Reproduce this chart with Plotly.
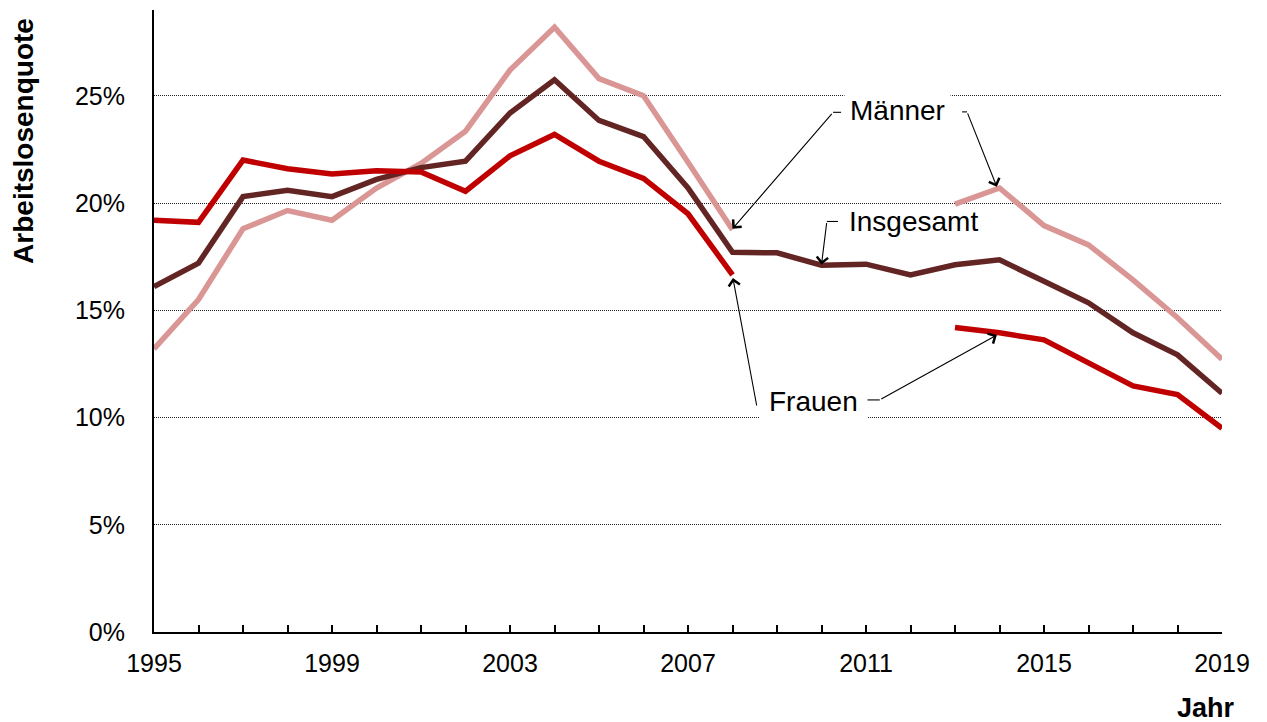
import plotly.graph_objects as go

years = list(range(1995, 2020))
insgesamt = [16.1, 17.2, 20.3, 20.6, 20.3, 21.1, 21.65, 21.95, 24.2, 25.75, 23.85, 23.1, 20.7,
             17.7, 17.68, 17.1, 17.15, 16.65, 17.12, 17.35, 16.35, 15.35, 13.95, 12.92, 11.13]
maenner = [13.2, 15.5, 18.8, 19.65, 19.2, 20.7, 21.85, 23.35, 26.2, 28.2, 25.8, 25.0, 21.9,
           18.75, None, None, None, None, 19.95, 20.7, 18.95, 18.05, 16.42, 14.65, 12.72]
frauen = [19.2, 19.1, 22.0, 21.6, 21.35, 21.5, 21.45, 20.55, 22.2, 23.2, 21.95, 21.15, 19.5,
          16.65, None, None, None, None, 14.2, 13.95, 13.62, 12.58, 11.47, 11.07, 9.5]
y_ticks = [0, 5, 10, 15, 20, 25]
y_ticklabels = [f"{v}%" for v in y_ticks]

FONT = "Liberation Sans, Arial, sans-serif"
series = [
    ("Männer", maenner, "#D99694"),
    ("Insgesamt", insgesamt, "#632523"),
    ("Frauen", frauen, "#C00000"),
]

fig = go.Figure()
for name, values, color in series:
    fig.add_trace(go.Scatter(
        x=years, y=values, mode="lines", name=name,
        line=dict(color=color, width=5.5), connectgaps=False,
    ))


def idx(year):
    return years.index(year)


def label(text, x, y, bg=True, pad=6):
    fig.add_annotation(
        x=x, y=y, xref="x", yref="y", text=text, showarrow=False,
        font=dict(family=FONT, size=28, color="black"),
        bgcolor="white" if bg else None, borderpad=pad,
    )


def arrow(x_tip, y_tip, x_tail, y_tail):
    fig.add_annotation(
        x=x_tip, y=y_tip, ax=x_tail, ay=y_tail, xref="x", yref="y", axref="x", ayref="y",
        text="", showarrow=True, arrowhead=4, arrowsize=2.0, arrowwidth=1.1,
        arrowcolor="black", standoff=0, startstandoff=0,
    )


def tick(x0, x1, y):
    fig.add_shape(type="line", x0=x0, x1=x1, y0=y, y1=y, xref="x", yref="y",
                  line=dict(color="black", width=1.1))


# labels and leader lines
label("Männer", 2011.70, 24.3, pad=5)
label("Insgesamt", 2012.06, 19.12, bg=False)
label("Frauen", 2009.81, 10.77, pad=9)

# Männer
tick(2010.26, 2010.44, 24.23)
arrow(2008, maenner[idx(2008)] + 0.05, 2010.26, 24.23)
tick(2013.16, 2013.27, 24.25)
arrow(2013.94, maenner[idx(2014)] + 0.06, 2013.27, 24.25)
# Insgesamt
tick(2010.12, 2010.37, 19.14)
arrow(2010, insgesamt[idx(2010)] + 0.03, 2010.12, 19.14)
# Frauen
arrow(2008.01, frauen[idx(2008)] - 0.15, 2008.55, 10.49)
tick(2011.02, 2011.31, 10.82)
arrow(2013.94, frauen[idx(2014)] - 0.1, 2011.31, 10.82)

fig.add_annotation(
    text="<b>Arbeitslosenquote</b>", textangle=-90, xref="paper", yref="paper",
    x=-0.1224, y=0.79, xanchor="center", yanchor="middle", showarrow=False,
    font=dict(family=FONT, size=28, color="black"),
)
fig.add_annotation(
    text="<b>Jahr</b>", xref="paper", yref="paper", x=0.985, y=-0.1215,
    xanchor="center", yanchor="middle", showarrow=False,
    font=dict(family=FONT, size=27, color="black"),
)

fig.update_xaxes(
    range=[1995, 2019], tickmode="linear", tick0=1995, dtick=4,
    ticks="inside", ticklen=7, tickwidth=1.5, tickcolor="black",
    minor=dict(dtick=1, ticks="inside", ticklen=7, tickwidth=1.5, tickcolor="black"),
    showline=True, linecolor="black", linewidth=2, showgrid=False, zeroline=False,
    tickfont=dict(family=FONT, size=25, color="black"), ticklabelstandoff=8,
)
fig.update_yaxes(
    range=[0, 29], tickvals=y_ticks, ticktext=y_ticklabels,
    showline=True, linecolor="black", linewidth=2, ticks="",
    showgrid=True, gridcolor="#222222", gridwidth=1, griddash="1px,1px", zeroline=False,
    tickfont=dict(family=FONT, size=25, color="black"), ticklabelstandoff=22,
)
fig.update_layout(
    width=1259, height=714, showlegend=False,
    paper_bgcolor="white", plot_bgcolor="white",
    margin=dict(l=146, r=45, t=2, b=90),
)

fig.write_html("out.html")
